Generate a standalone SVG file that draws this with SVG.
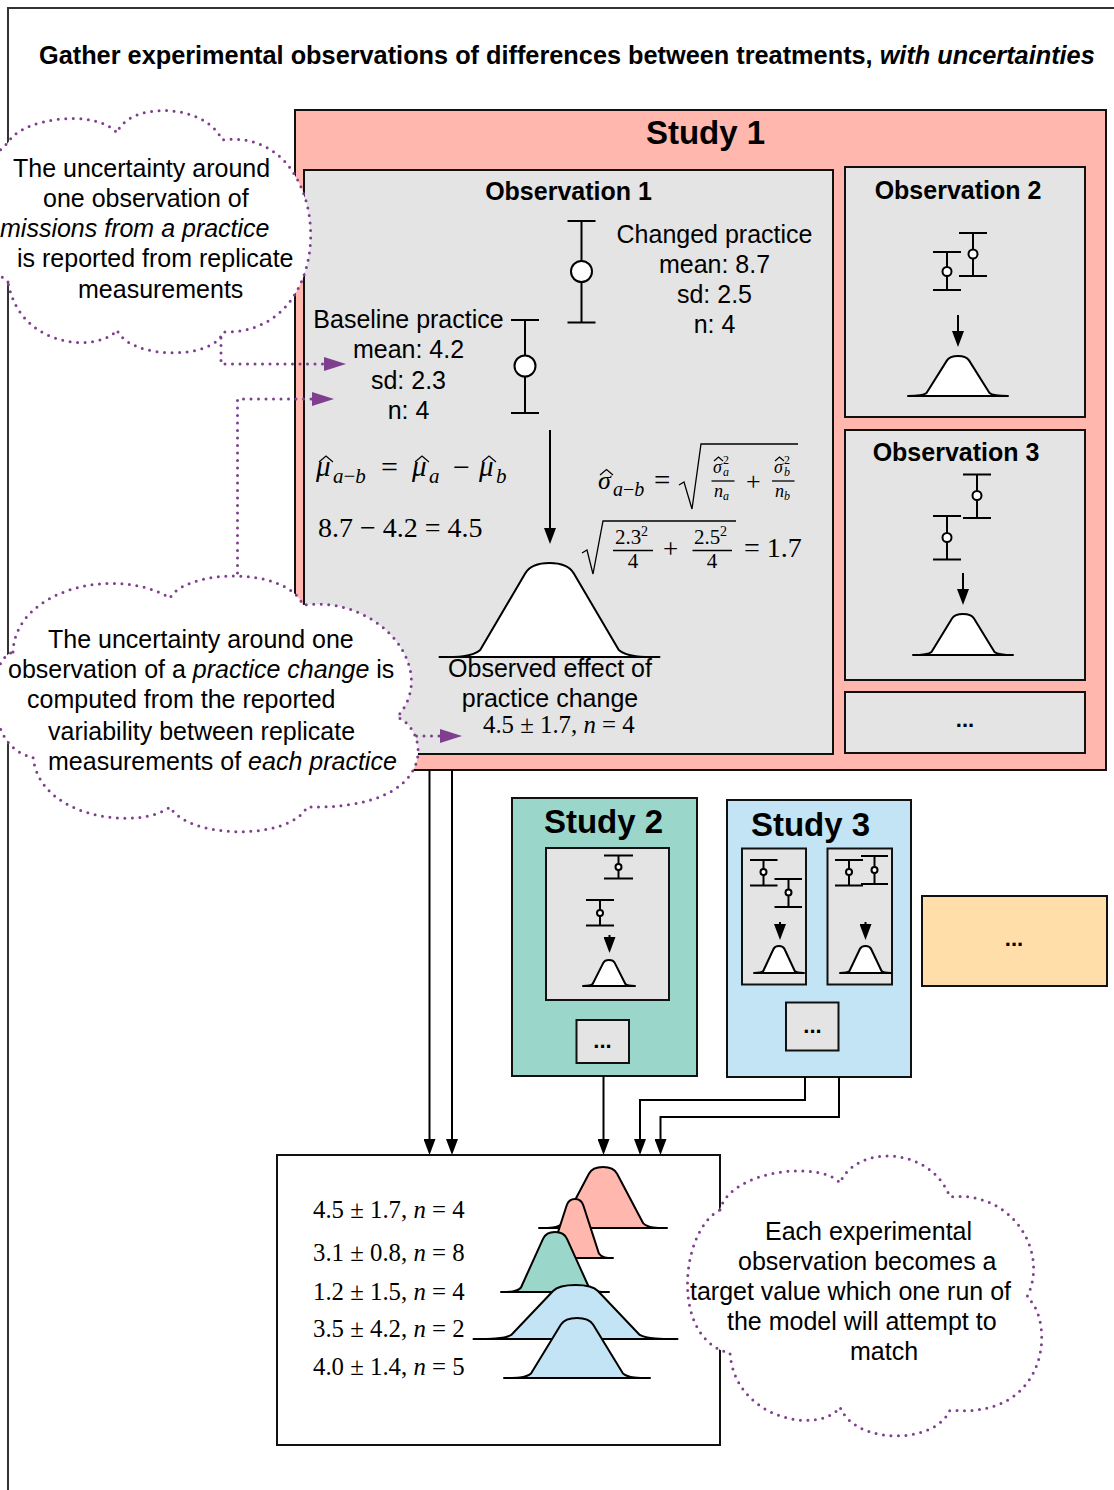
<svg xmlns="http://www.w3.org/2000/svg" xmlns:xlink="http://www.w3.org/1999/xlink" width="1114" height="1490" viewBox="0 0 1114 1490">
  <style>
    .sans{font-family:"Liberation Sans",Arial,sans-serif;fill:#000}
    .serif{font-family:"Liberation Serif","Times New Roman",serif;fill:#000}
    .t25{font-size:25px}
    .b{font-weight:bold}
    .i{font-style:italic}
    .mid{text-anchor:middle}
    .box{stroke:#111;stroke-width:2}
    .gray{fill:#e4e4e4}
    .pink{fill:#ffb7ae}
    .teal{fill:#9bd6cb}
    .blue{fill:#c3e4f5}
    .orange{fill:#ffdea9}
    .ln{stroke:#000;stroke-width:2;fill:none}
    .thin{stroke:#000;stroke-width:1.3;fill:none}
    .hat{stroke:#000;stroke-width:1.2;fill:none;stroke-linejoin:miter}
    .dot{fill:none;stroke:#7f3f8f;stroke-width:3;stroke-dasharray:0 7.5;stroke-linecap:round}
    .cloud{fill:#fff;stroke:#7f3f8f;stroke-width:3;stroke-dasharray:0 7.5;stroke-linecap:round}
    .conn{stroke:#000;stroke-width:2;fill:none;marker-end:url(#ah)}
    .pconn{marker-end:url(#pah)}
    .bw{fill:#fff;stroke:#000;stroke-width:2;stroke-linejoin:round}
    .bc{stroke:#000;stroke-width:2;stroke-linejoin:round}
    .pt{fill:#fff;stroke:#000;stroke-width:2}
  </style>
  <defs>
    <!-- normalised bell curve: half-width 1, height 1, baseline at y=0 -->
    <path id="bell" vector-effect="non-scaling-stroke" d="M-1,0 C-0.85,0 -0.7,0 -0.63,-0.075 L-0.22,-0.89 C-0.18,-0.97 -0.09,-1 0,-1 C0.09,-1 0.18,-0.97 0.22,-0.89 L0.63,-0.075 C0.7,0 0.85,0 1,0 Z"/>
    <marker id="ah" viewBox="0 0 16 12" refX="8" refY="6" markerWidth="16" markerHeight="12" orient="auto" markerUnits="userSpaceOnUse">
      <path d="M0,0 L16,6 L0,12 Z" fill="#000"/>
    </marker>
    <marker id="pah" viewBox="0 0 22 14" refX="0" refY="7" markerWidth="22" markerHeight="14" orient="auto" markerUnits="userSpaceOnUse">
      <path d="M0,0 L22,7 L0,14 Z" fill="#7f3f8f"/>
    </marker>
  </defs>

  <rect x="0" y="0" width="1114" height="1490" fill="#fff"/>
  <!-- outer frame -->
  <rect x="8" y="8" width="1300" height="1600" fill="none" stroke="#333" stroke-width="2"/>

  <text id="title" class="sans b" font-size="25.3" x="39" y="64">Gather experimental observations of differences between treatments, <tspan class="i">with uncertainties</tspan></text>

  <!-- Study 1 -->
  <g id="study1">
    <rect class="box pink" x="295" y="110" width="811" height="660"/>
    <text class="sans b mid" x="705.5" y="144" font-size="33">Study 1</text>
  </g>

  <!-- Observation 1 -->
  <g id="obs1">
    <rect class="box gray" x="304" y="170" width="529" height="584"/>
    <text class="sans b t25 mid" x="568.5" y="200">Observation 1</text>
    <!-- changed practice -->
    <path class="ln" d="M581.5,221 V322.5 M567.5,221 H595.5 M567.5,322.5 H595.5"/>
    <circle class="pt" cx="581.5" cy="271.5" r="10.5"/>
    <g class="sans t25 mid">
      <text x="714.5" y="243">Changed practice</text>
      <text x="714.5" y="273">mean: 8.7</text>
      <text x="714.5" y="303">sd: 2.5</text>
      <text x="714.5" y="333">n: 4</text>
    </g>
    <!-- baseline practice -->
    <path class="ln" d="M525,320 V413 M511,320 H539 M511,413 H539"/>
    <circle class="pt" cx="525" cy="366" r="10.5"/>
    <g class="sans t25 mid">
      <text x="408.5" y="328">Baseline practice</text>
      <text x="408.5" y="358">mean: 4.2</text>
      <text x="408.5" y="389">sd: 2.3</text>
      <text x="408.5" y="419">n: 4</text>
    </g>
    <path class="conn" d="M550,430 V536"/>
    <use xlink:href="#bell" class="bw" transform="translate(549.5 657) scale(110 94)"/>

    <!-- difference of means -->
    <g class="serif">
      <text x="316" y="476" font-size="29" class="i">μ</text>
      <text x="333" y="483" font-size="21"><tspan class="i">a</tspan>−<tspan class="i">b</tspan></text>
      <text x="381" y="477" font-size="30">=</text>
      <text x="412" y="476" font-size="29" class="i">μ</text>
      <text x="429" y="483" font-size="21" class="i">a</text>
      <text x="453" y="477" font-size="30">−</text>
      <text x="479" y="476" font-size="29" class="i">μ</text>
      <text x="496" y="483" font-size="21" class="i">b</text>
      <text x="318" y="537" font-size="28">8.7 − 4.2 = 4.5</text>
    </g>
    <!-- estimate hats -->
    <path class="hat" d="M319,462 L326,456 L333,462 M415,462 L422,456 L429,462 M482,462 L489,456 L496,462"/>

    <!-- pooled standard error -->
    <g class="serif">
      <text x="598" y="489" font-size="26" class="i">σ</text>
      <text x="613" y="496" font-size="20"><tspan class="i">a</tspan>−<tspan class="i">b</tspan></text>
      <text x="654" y="490" font-size="29">=</text>
      <path class="thin" stroke-width="1.6" d="M679,485 L684,482 L692,509 L701,444 H798"/>
      <text x="713" y="473" font-size="18" class="i">σ</text>
      <text x="723" y="464" font-size="12">2</text>
      <text x="723" y="476" font-size="12" class="i">a</text>
      <path class="thin" d="M711.5,481 H734.5"/>
      <text x="714" y="497" font-size="18" class="i">n</text>
      <text x="723" y="500" font-size="12" class="i">a</text>
      <text x="746" y="490" font-size="26">+</text>
      <text x="774" y="473" font-size="18" class="i">σ</text>
      <text x="784" y="464" font-size="12">2</text>
      <text x="784" y="476" font-size="12" class="i">b</text>
      <path class="thin" d="M772,481 H794.5"/>
      <text x="775" y="497" font-size="18" class="i">n</text>
      <text x="784" y="500" font-size="12" class="i">b</text>

      <path class="thin" stroke-width="1.6" d="M582,553 L587,550 L593,574 L603,521 H736"/>
      <text x="615" y="544" font-size="21">2.3</text>
      <text x="641" y="536" font-size="14">2</text>
      <path class="thin" d="M613,550.5 H653"/>
      <text x="633" y="568" font-size="21" class="mid">4</text>
      <text x="663" y="558" font-size="27">+</text>
      <text x="694" y="544" font-size="21">2.5</text>
      <text x="720" y="536" font-size="14">2</text>
      <path class="thin" d="M692.5,550.5 H732"/>
      <text x="712" y="568" font-size="21" class="mid">4</text>
      <text x="744" y="557" font-size="28">= 1.7</text>
    </g>
    <path class="hat" d="M600,475 L606.5,469.5 L613,475"/>
    <path class="hat" stroke-width="1" d="M714,461 L718.5,457 L723,461 M775,461 L779.5,457 L784,461"/>

    <g class="sans t25 mid">
      <text x="550" y="677">Observed effect of</text>
      <text x="550" y="707">practice change</text>
    </g>
    <text class="serif" x="483" y="733" font-size="24.8">4.5 ± 1.7, <tspan class="i">n</tspan> = 4</text>
  </g>

  <!-- Observation 2 -->
  <g id="obs2">
    <rect class="box gray" x="845" y="167" width="240" height="250"/>
    <text class="sans b t25 mid" x="958" y="199">Observation 2</text>
    <path class="ln" d="M947,252 V290 M933,252 H961 M933,290 H961"/>
    <circle class="pt" cx="947" cy="271.5" r="4.5"/>
    <path class="ln" d="M973,233 V276 M959,233 H987 M959,276 H987"/>
    <circle class="pt" cx="973" cy="254" r="4.5"/>
    <path class="conn" d="M958,315 V339"/>
    <use xlink:href="#bell" class="bw" transform="translate(958 396) scale(50 40)"/>
  </g>

  <!-- Observation 3 -->
  <g id="obs3">
    <rect class="box gray" x="845" y="430" width="240" height="250"/>
    <text class="sans b t25 mid" x="956" y="461">Observation 3</text>
    <path class="ln" d="M977,474.5 V518 M963,474.5 H991 M963,518 H991"/>
    <circle class="pt" cx="977" cy="495.5" r="4.5"/>
    <path class="ln" d="M947,516 V559.5 M933,516 H961 M933,559.5 H961"/>
    <circle class="pt" cx="947" cy="537.5" r="4.5"/>
    <path class="conn" d="M963,573 V597"/>
    <use xlink:href="#bell" class="bw" transform="translate(963 655) scale(50 41)"/>
  </g>

  <g id="obs-more">
    <rect class="box gray" x="845" y="692" width="240" height="61"/>
    <text class="sans b mid" x="965" y="727" font-size="22">...</text>
  </g>

  <!-- Study 2 -->
  <g id="study2">
    <rect class="box teal" x="512" y="798" width="185" height="278"/>
    <text class="sans b mid" x="603.5" y="833" font-size="33">Study 2</text>
    <rect class="box gray" x="546" y="848" width="123" height="152"/>
    <path class="ln" stroke-width="1.8" d="M618.5,855.5 V878.5 M604,855.5 H633 M604,878.5 H633"/>
    <circle class="pt" stroke-width="1.6" cx="618.5" cy="867" r="3"/>
    <path class="ln" stroke-width="1.8" d="M600,900 V925.5 M586,900 H614 M586,925.5 H614"/>
    <circle class="pt" stroke-width="1.6" cx="600" cy="913" r="3"/>
    <path class="conn" d="M609.5,935 V945"/>
    <use xlink:href="#bell" class="bw" transform="translate(609 986) scale(26 26)"/>
    <rect class="box gray" x="576.5" y="1020" width="52.5" height="43"/>
    <text class="sans b mid" x="602.5" y="1048" font-size="22">...</text>
  </g>

  <!-- Study 3 -->
  <g id="study3">
    <rect class="box blue" x="727" y="800" width="184" height="277"/>
    <text class="sans b mid" x="810.5" y="836" font-size="33">Study 3</text>
    <rect class="box gray" x="742" y="848.5" width="64" height="136"/>
    <path class="ln" stroke-width="1.8" d="M763.5,860 V885.5 M750,860 H777.5 M750,885.5 H777.5"/>
    <circle class="pt" stroke-width="1.6" cx="763.5" cy="872" r="3"/>
    <path class="ln" stroke-width="1.8" d="M788.5,879 V907 M774.5,879 H802 M774.5,907 H802"/>
    <circle class="pt" stroke-width="1.6" cx="788.5" cy="892.5" r="3"/>
    <path class="conn" d="M780,922 V932"/>
    <use xlink:href="#bell" class="bw" transform="translate(779 973) scale(25 27)"/>
    <rect class="box gray" x="827.5" y="848.5" width="64.5" height="136"/>
    <path class="ln" stroke-width="1.8" d="M849,860 V885.5 M835,860 H863 M835,885.5 H863"/>
    <circle class="pt" stroke-width="1.6" cx="849" cy="872" r="3"/>
    <path class="ln" stroke-width="1.8" d="M874.5,856 V884 M861,856 H888 M861,884 H888"/>
    <circle class="pt" stroke-width="1.6" cx="874.5" cy="870" r="3"/>
    <path class="conn" d="M865.5,922 V932"/>
    <use xlink:href="#bell" class="bw" transform="translate(865.5 973) scale(25.5 27)"/>
    <rect class="box gray" x="786" y="1002.5" width="52.5" height="48"/>
    <text class="sans b mid" x="812.5" y="1033" font-size="22">...</text>
  </g>

  <!-- further studies -->
  <g id="study-more">
    <rect class="box orange" x="922" y="896" width="185" height="90"/>
    <text class="sans b mid" x="1014" y="946" font-size="22">...</text>
  </g>

  <!-- connectors -->
  <g id="connectors">
    <path class="conn" d="M429.5,770 V1147"/>
    <path class="conn" d="M452,770 V1147"/>
    <path class="conn" d="M603.5,1076 V1147"/>
    <path class="conn" d="M805,1077 V1100 H640 V1147"/>
    <path class="conn" d="M839,1077 V1117 H660.5 V1147"/>
    <path class="dot pconn" d="M221,338 V364 H324"/>
    <path class="dot pconn" d="M237.5,573 V399 H312"/>
    <path class="dot pconn" d="M409,736 H440"/>
  </g>

  <!-- collected targets -->
  <g id="targets">
    <rect x="277" y="1155" width="443" height="290" fill="#fff" stroke="#111" stroke-width="2"/>
    <use xlink:href="#bell" class="bc pink" transform="translate(603 1228) scale(64 61)"/>
    <use xlink:href="#bell" class="bc pink" transform="translate(575 1258) scale(38 59)"/>
    <use xlink:href="#bell" class="bc teal" transform="translate(555 1292) scale(54 60)"/>
    <use xlink:href="#bell" class="bc blue" transform="translate(575.5 1339) scale(102 54)"/>
    <use xlink:href="#bell" class="bc blue" transform="translate(577 1378) scale(73 60)"/>
    <g class="serif" font-size="24.8">
      <text x="313" y="1218">4.5 ± 1.7, <tspan class="i">n</tspan> = 4</text>
      <text x="313" y="1261">3.1 ± 0.8, <tspan class="i">n</tspan> = 8</text>
      <text x="313" y="1300">1.2 ± 1.5, <tspan class="i">n</tspan> = 4</text>
      <text x="313" y="1337">3.5 ± 4.2, <tspan class="i">n</tspan> = 2</text>
      <text x="313" y="1375">4.0 ± 1.4, <tspan class="i">n</tspan> = 5</text>
    </g>
  </g>

  <!-- note: replicate measurements -->
  <g id="note-replicates">
    <path class="cloud" d="M8,282 C-25,260 -25,165 8,143 C20,118 95,108 117,133 C128,102 205,102 222,140 C335,125 345,335 223,332 C215,360 130,360 117,330 C100,352 20,350 8,282 Z"/>
    <g class="sans t25">
      <text x="13" y="177">The uncertainty around</text>
      <text x="43" y="207">one observation of</text>
      <text x="0" y="237" class="i">missions from a practice</text>
      <text x="17" y="267">is reported from replicate</text>
      <text x="78" y="298">measurements</text>
    </g>
  </g>

  <!-- note: computed uncertainty -->
  <g id="note-change">
    <path class="cloud" d="M13,652 C15,590 115,565 170,598 C185,570 285,565 303,605 C380,595 440,670 397,717 C430,730 440,810 307,807 C290,840 190,840 170,807 C140,830 40,820 33,757 C-15,750 -15,660 13,652 Z"/>
    <g class="sans t25">
      <text x="48" y="648">The uncertainty around one</text>
      <text x="8" y="678">observation of a <tspan class="i">practice change</tspan> is</text>
      <text x="27" y="708">computed from the reported</text>
      <text x="48" y="740">variability between replicate</text>
      <text x="48" y="770">measurements of <tspan class="i">each practice</tspan></text>
    </g>
  </g>

  <!-- note: target values -->
  <g id="note-target">
    <path class="cloud" d="M720,1210 C730,1170 820,1160 840,1183 C855,1145 930,1145 950,1197 C1010,1190 1050,1250 1027,1297 C1055,1320 1050,1420 950,1410 C935,1445 855,1445 840,1407 C820,1435 735,1420 730,1353 C670,1340 680,1230 720,1210 Z"/>
    <g class="sans t25">
      <text x="765" y="1240">Each experimental</text>
      <text x="738" y="1270">observation becomes a</text>
      <text x="690" y="1300">target value which one run of</text>
      <text x="727" y="1330">the model will attempt to</text>
      <text x="850" y="1360">match</text>
    </g>
  </g>
</svg>
